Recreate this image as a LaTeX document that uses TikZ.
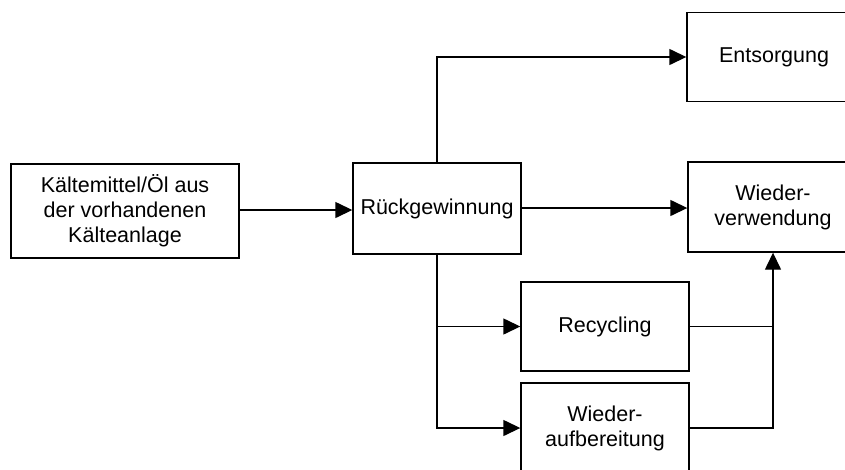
\documentclass[tikz,border=0pt]{standalone}
\usepackage{fontspec}
\setmainfont{Liberation Sans}
\usetikzlibrary{arrows.meta}
\begin{document}
\begin{tikzpicture}[x=1pt,y=-1pt,
  box/.style={draw,line width=1.4pt,rectangle,inner sep=0pt,align=center,
    font=\fontsize{21.5}{25}\selectfont},
  conn/.style={line width=1.4pt},
  arr/.style={conn,-{Triangle[length=17pt,width=16pt]}}]
\useasboundingbox (0,0) rectangle (845,469);
\clip (0,0) rectangle (845,469);
\fill[white] (0,0) rectangle (845,469);
\node[box,minimum width=228pt,minimum height=94pt] (src) at (125,211) {Kältemittel/Öl aus\\der vorhandenen\\Kälteanlage};
\node[box,minimum width=168pt,minimum height=91pt] (rg) at (437,208.5) {Rückgewinnung};
\node[box,minimum width=174pt,minimum height=89pt] (ent) at (774,57) {Entsorgung};
\node[box,minimum width=170pt,minimum height=90pt] (wv) at (773,207) {Wieder-\\verwendung};
\node[box,minimum width=168pt,minimum height=89pt] (rec) at (605,326.5) {Recycling};
\node[box,minimum width=168pt,minimum height=90pt] (wa) at (605,428) {Wieder-\\aufbereitung};
\draw[arr] (src.east |- 0,210) -- (rg.west |- 0,210);
\draw[arr] (rg.east |- 0,208) -- (wv.west |- 0,208);
\draw[arr] (rg.north) |- (ent.west);
\draw[arr] (rg.south) |- (rec.west);
\draw[arr] (rg.south) |- (wa.west);
\draw[conn] (rec.east) -- (rec.east -| wv.south);
\draw[arr] (wa.east) -| (wv.south);
\end{tikzpicture}
\end{document}
